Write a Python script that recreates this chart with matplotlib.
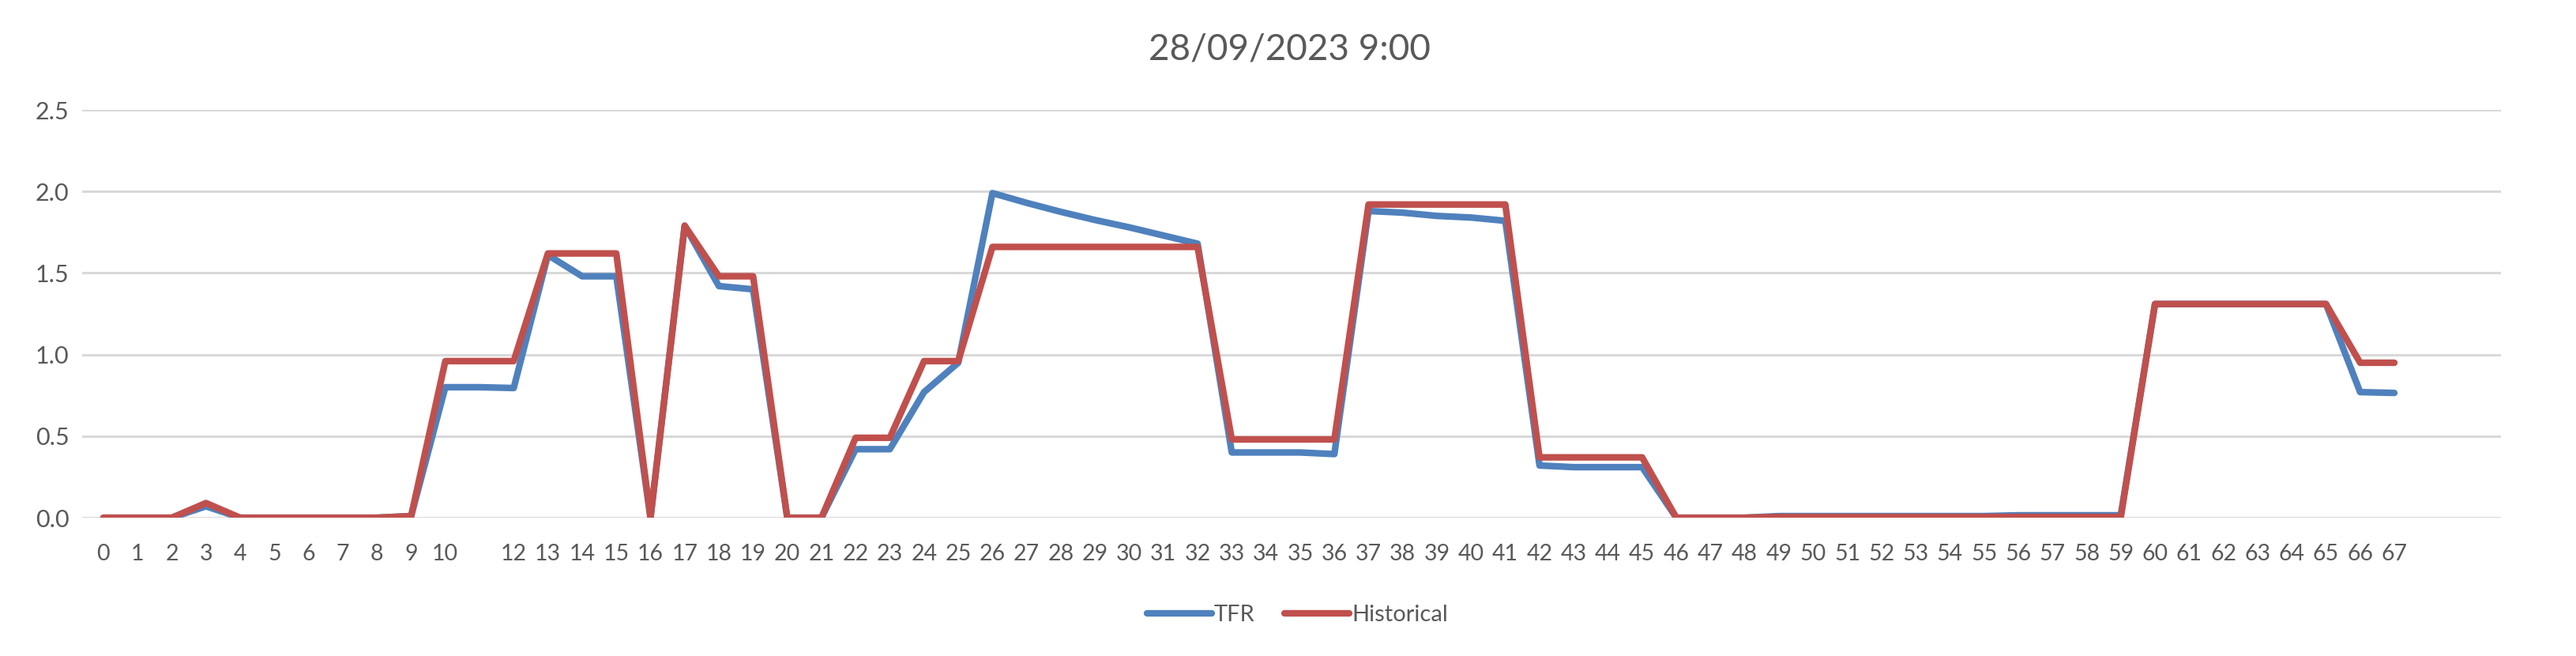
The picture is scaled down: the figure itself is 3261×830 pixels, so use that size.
import numpy as np
import matplotlib.pyplot as plt

plt.rcParams['font.family'] = ['Lato', 'DejaVu Sans']

# category labels (slot 11 has no label, three empty slots at the end)
labels = [str(i) for i in range(68)]
labels[11] = ''
labels += ['', '', '']

tfr = [0.0, 0.0, 0.0, 0.07, 0.0, 0.0, 0.0, 0.0, 0.0, 0.01,
       0.80, 0.80, 0.795, 1.61, 1.48, 1.48, 0.0, 1.79, 1.42, 1.40,
       0.0, 0.0, 0.42, 0.42, 0.77, 0.95, 1.99, 1.93, 1.875, 1.825,
       1.78, 1.73, 1.68, 0.40, 0.40, 0.40, 0.39, 1.88, 1.87, 1.85,
       1.84, 1.82, 0.32, 0.31, 0.31, 0.31, 0.0, 0.0, 0.0, 0.01,
       0.01, 0.01, 0.01, 0.01, 0.01, 0.01, 0.015, 0.015, 0.015, 0.015,
       1.31, 1.31, 1.31, 1.31, 1.31, 1.31, 0.77, 0.765]

historical = [0.0, 0.0, 0.0, 0.09, 0.0, 0.0, 0.0, 0.0, 0.0, 0.01,
              0.96, 0.96, 0.96, 1.62, 1.62, 1.62, 0.0, 1.79, 1.48, 1.48,
              0.0, 0.0, 0.49, 0.49, 0.96, 0.96, 1.66, 1.66, 1.66, 1.66,
              1.66, 1.66, 1.66, 0.48, 0.48, 0.48, 0.48, 1.92, 1.92, 1.92,
              1.92, 1.92, 0.37, 0.37, 0.37, 0.37, 0.0, 0.0, 0.0, 0.005,
              0.005, 0.005, 0.005, 0.005, 0.005, 0.005, 0.005, 0.005, 0.005, 0.005,
              1.31, 1.31, 1.31, 1.31, 1.31, 1.31, 0.95, 0.95]

grey = '#595959'

fig = plt.figure(figsize=(32.62, 8.30), dpi=100)
ax = fig.add_axes([0.0319, 0.2108, 0.9387, 0.6217])

x = np.arange(len(tfr))
ax.plot(x, tfr, color='#4F81BD', lw=6, solid_capstyle='round',
        solid_joinstyle='round', label='TFR')
ax.plot(x, historical, color='#C0504D', lw=6, solid_capstyle='round',
        solid_joinstyle='round', label='Historical')

ax.set_xlim(-0.62, len(labels) - 0.88)
ax.set_ylim(0, 2.5)
ax.set_xticks(np.arange(len(labels)))
ax.set_xticklabels(labels)
ax.set_yticks(np.arange(0, 2.51, 0.5))
ax.set_yticklabels(['%.1f' % v for v in np.arange(0, 2.51, 0.5)])
ax.tick_params(axis='x', length=0, pad=24, labelsize=20.5, labelcolor=grey)
ax.tick_params(axis='y', length=0, pad=12, labelsize=22, labelcolor=grey)

ax.grid(axis='y', color='#D9D9D9', lw=2.2)
ax.set_axisbelow(True)
for s in ax.spines.values():
    s.set_visible(False)

fig.text(0.5006, 0.925, '28/09/2023 9:00', ha='center', va='center',
         fontsize=33, color=grey)

fig.legend(loc='center', bbox_to_anchor=(0.5035, 0.063), ncol=2,
           frameon=False, fontsize=21, labelcolor=grey, handlelength=2.8,
           handletextpad=0.1, columnspacing=1.3)

fig.savefig('out.png', dpi=100, facecolor='white')
